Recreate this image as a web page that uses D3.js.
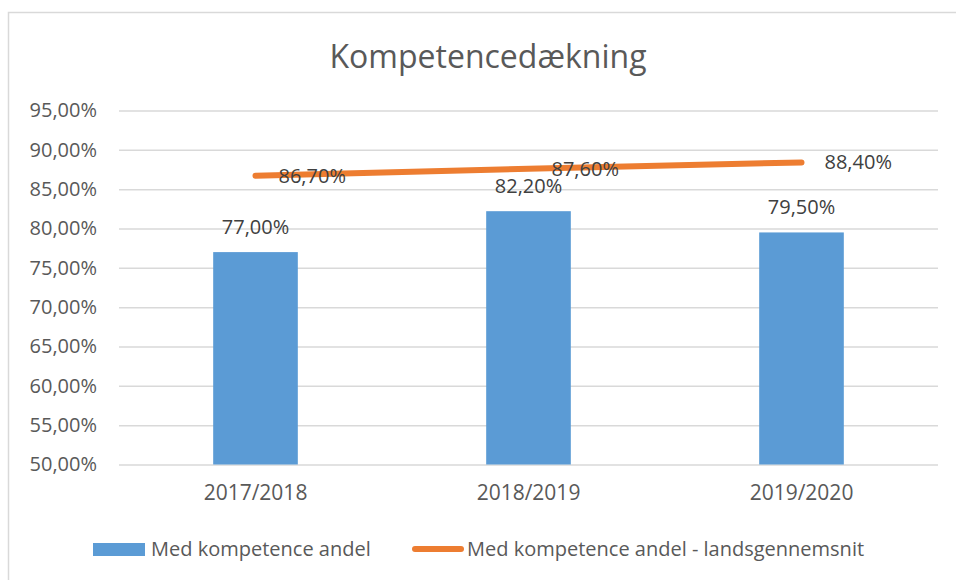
<!DOCTYPE html>
<html>
<head>
<meta charset="utf-8">
<script src="https://cdn.jsdelivr.net/npm/d3@7"></script>
<style>
  body { margin: 0; background: #fff; }
  svg text { font-family: "Open Sans", sans-serif; fill: #595959; }
</style>
</head>
<body>
<div id="chart"></div>
<script>
// Data
var years = ["2017/2018", "2018/2019", "2019/2020"];
var andel = [77.0, 82.2, 79.5];
var landsgennemsnit = [86.7, 87.6, 88.4];
var yTicks = [50, 55, 60, 65, 70, 75, 80, 85, 90, 95];
var seriesNames = ["Med kompetence andel", "Med kompetence andel - landsgennemsnit"];

var svgWidth = 956;
var svgHeight = 580;

var margin = { top: 110.5, right: 18, bottom: 115.5, left: 119 };
var width = svgWidth - margin.left - margin.right;
var height = svgHeight - margin.top - margin.bottom;

var fmt = function(v) { return v.toFixed(2).replace(".", ",") + "%"; };

var svg = d3.select("#chart")
  .append("svg")
  .attr("width", svgWidth)
  .attr("height", svgHeight);

// outer chart border (only top and left visible)
svg.append("rect")
  .attr("x", 8.5)
  .attr("y", 12.5)
  .attr("width", 960)
  .attr("height", 600)
  .attr("fill", "none")
  .attr("stroke", "#d9d9d9")
  .attr("stroke-width", 1.5);

svg.append("text")
  .attr("x", 488)
  .attr("y", 68)
  .attr("text-anchor", "middle")
  .style("font-size", "32px")
  .text("Kompetencedækning");

var chartGroup = svg.append("g")
  .attr("transform", `translate(${margin.left}, ${margin.top})`);

var xScale = d3.scaleBand()
  .domain(years)
  .range([0, width])
  .paddingInner(0.69)
  .paddingOuter(0.345);

var xPoint = function(d) { return xScale(d) + xScale.bandwidth() / 2; };

var yScale = d3.scaleLinear()
  .domain([50, 95])
  .range([height, 0]);

// gridlines
var yAxis = d3.axisLeft(yScale)
  .tickValues(yTicks)
  .tickSize(-width)
  .tickPadding(22)
  .tickFormat(fmt);

var yG = chartGroup.append("g").call(yAxis);
yG.select(".domain").remove();
yG.selectAll(".tick line").attr("stroke", "#d9d9d9").attr("stroke-width", 1.5);
yG.selectAll(".tick text").style("font-size", "20px").attr("fill", "#595959");

var xAxis = d3.axisBottom(xScale).tickSize(0).tickPadding(21);
var xG = chartGroup.append("g")
  .attr("transform", `translate(0, ${height})`)
  .call(xAxis);
xG.select(".domain").remove();
xG.selectAll(".tick text").style("font-size", "21px").attr("fill", "#595959");

// bars
chartGroup.selectAll("rect.bar")
  .data(andel)
  .enter()
  .append("rect")
  .attr("class", "bar")
  .attr("x", (d, i) => xScale(years[i]))
  .attr("y", d => yScale(d))
  .attr("width", xScale.bandwidth())
  .attr("height", d => height - yScale(d))
  .attr("fill", "#5b9bd5");

chartGroup.selectAll("text.barlabel")
  .data(andel)
  .enter()
  .append("text")
  .attr("class", "barlabel")
  .attr("x", (d, i) => xPoint(years[i]))
  .attr("y", d => yScale(d) - 18)
  .attr("text-anchor", "middle")
  .style("font-size", "20px")
  .style("fill", "#404040")
  .text(d => fmt(d));

// line
var line = d3.line()
  .x((d, i) => xPoint(years[i]))
  .y(d => yScale(d));

chartGroup.append("path")
  .datum(landsgennemsnit)
  .attr("d", line)
  .attr("fill", "none")
  .attr("stroke", "#ed7d31")
  .attr("stroke-width", 6)
  .attr("stroke-linecap", "round");

chartGroup.selectAll("text.linelabel")
  .data(landsgennemsnit)
  .enter()
  .append("text")
  .attr("class", "linelabel")
  .attr("x", (d, i) => xPoint(years[i]) + 23)
  .attr("y", d => yScale(d) + 7)
  .style("font-size", "20px")
  .style("fill", "#404040")
  .text(d => fmt(d));

// legend
var legend = svg.append("g");
legend.append("rect")
  .attr("x", 93)
  .attr("y", 543)
  .attr("width", 52)
  .attr("height", 13)
  .attr("fill", "#5b9bd5");
legend.append("text")
  .attr("x", 151)
  .attr("y", 556)
  .style("font-size", "20px")
  .text(seriesNames[0]);
legend.append("line")
  .attr("x1", 415)
  .attr("x2", 461)
  .attr("y1", 549)
  .attr("y2", 549)
  .attr("stroke", "#ed7d31")
  .attr("stroke-width", 6)
  .attr("stroke-linecap", "round");
legend.append("text")
  .attr("x", 467)
  .attr("y", 556)
  .style("font-size", "20px")
  .text(seriesNames[1]);
</script>
</body>
</html>
